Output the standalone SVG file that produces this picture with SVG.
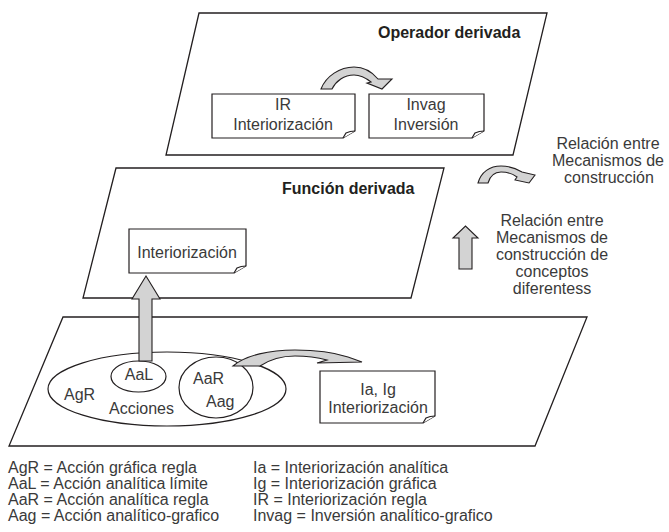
<svg xmlns="http://www.w3.org/2000/svg" width="669" height="532" viewBox="0 0 669 532">
<style>
.pl{fill:#fff;stroke:#231f20;stroke-width:1.3}
.bx{fill:#fff;stroke:#231f20;stroke-width:1.2}
.el{fill:none;stroke:#231f20;stroke-width:1.2}
.ar{fill:#d3d3d3;stroke:#231f20;stroke-width:1.1;stroke-linejoin:miter}
.t{font-family:"Liberation Sans",Arial,sans-serif;font-size:16px;fill:#3a3a3a}
.c{text-anchor:middle}
.b{font-weight:bold;fill:#231f20}
</style>
<rect width="669" height="532" fill="#fff"/>

<g id="plano-operador">
<polygon class="pl" points="199,13 547,13 513,155 166,155"/>
<text class="t b" x="378" y="38">Operador derivada</text>
</g>
<g id="plano-funcion">
<polygon class="pl" points="116,168 444,168 411,298 83,298"/>
<text class="t b" x="282" y="194">Función derivada</text>
</g>
<g id="plano-acciones">
<polygon class="pl" points="63,317 587,317 535,446 9,446"/>
</g>

<g id="box-IR">
<path class="bx" d="M212,94 H355 V131 L343,138 H212 Z"/>
<path class="bx" d="M343,138 L346,133 Q350,131 355,131"/>
<text class="t c" x="283" y="110">IR</text>
<text class="t c" x="283" y="130">Interiorización</text>
</g>
<g id="box-Invag">
<path class="bx" d="M369,94 H484 V131 L472,138 H369 Z"/>
<path class="bx" d="M472,138 L475,133 Q479,131 484,131"/>
<text class="t c" x="426" y="110">Invag</text>
<text class="t c" x="426" y="130">Inversión</text>
</g>
<g id="box-Interiorizacion">
<path class="bx" d="M129,229 H246 V266 L234,273 H129 Z"/>
<path class="bx" d="M234,273 L237,268 Q241,266 246,266"/>
<text class="t c" x="187" y="258">Interiorización</text>
</g>
<g id="box-IaIg">
<path class="bx" d="M320,371 H435 V416 L423,423 H320 Z"/>
<path class="bx" d="M423,423 L426,418 Q430,416 435,416"/>
<text class="t c" x="378" y="395">Ia, Ig</text>
<text class="t c" x="378" y="413">Interiorización</text>
</g>

<g id="acciones">
<ellipse class="el" cx="167" cy="389" rx="119" ry="37"/>
<text class="t" x="64" y="400">AgR</text>
<text class="t" x="109" y="414">Acciones</text>
</g>
<g id="AaL">
<ellipse class="el" cx="138.5" cy="376.5" rx="27.5" ry="15.5"/>
<text class="t c" x="139" y="380">AaL</text>
</g>
<g id="AaR-Aag">
<ellipse class="el" cx="216" cy="387.5" rx="37" ry="30.5"/>
<text class="t" x="193" y="384">AaR</text>
<text class="t" x="206" y="407">Aag</text>
</g>

<g id="connectors">
<polygon class="ar" points="139,361 139,299 132,299 146,276 160,299 152,299 152,361"/>
<path class="ar" d="M233,366 C246,355 270,350 295,350 C318,350 336,353 348,357 L362,362 L317,363 L327,360 C316,357 306,356 295,356 C281,356 269,360 260,366 Z"/>
<path class="ar" d="M321,89 C326,76 340,67 354,67 C365,67 373,73 378,79 L392,79 L382,89 L367,83 L371,82 C366,78 360,75 354,75 C344,75 336,81 332,89 Z"/>
<path class="ar" d="M478,183 C481,172 490,166 501,166 C510,166 517,169 522,172 L535,175 L529,183 L515,180 L517,177 C513,174 507,172 501,172 C495,172 490,176 488,183 Z"/>
<polygon class="ar" points="459,269 459,238 453,238 465.5,226 478,238 472,238 472,269"/>
</g>

<g id="etiqueta-mecanismos">
<text class="t c" x="608" y="149">Relación entre</text>
<text class="t c" x="608" y="166">Mecanismos de</text>
<text class="t c" x="609" y="183">construcción</text>
</g>
<g id="etiqueta-conceptos">
<text class="t c" x="552" y="226">Relación entre</text>
<text class="t c" x="552" y="243">Mecanismos de</text>
<text class="t c" x="552" y="260">construcción de</text>
<text class="t c" x="552" y="277">conceptos</text>
<text class="t c" x="552" y="294">diferentess</text>
</g>

<g id="leyenda">
<text class="t" x="8" y="473">AgR = Acción gráfica regla</text>
<text class="t" x="8" y="489">AaL = Acción analítica límite</text>
<text class="t" x="8" y="505">AaR = Acción analítica regla</text>
<text class="t" x="8" y="521">Aag = Acción analítico-grafico</text>
<text class="t" x="253" y="473">Ia = Interiorización analítica</text>
<text class="t" x="253" y="489">Ig = Interiorización gráfica</text>
<text class="t" x="253" y="505">IR = Interiorización regla</text>
<text class="t" x="253" y="521">Invag = Inversión analítico-grafico</text>
</g>
</svg>
